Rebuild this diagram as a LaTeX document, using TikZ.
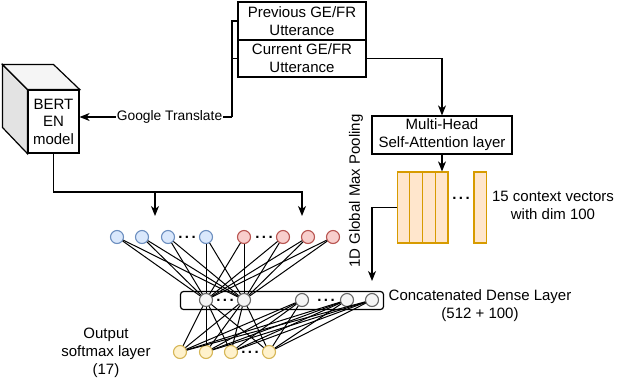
\documentclass[tikz,border=0pt]{standalone}
\usepackage{fontspec}
\setmainfont{Liberation Sans}
\usetikzlibrary{arrows.meta}
\definecolor{bluefill}{HTML}{DAE8FC}\definecolor{blueline}{HTML}{6C8EBF}
\definecolor{redfill}{HTML}{F8CECC}\definecolor{redline}{HTML}{B85450}
\definecolor{greyfill}{HTML}{F5F5F5}\definecolor{greyline}{HTML}{666666}
\definecolor{yelfill}{HTML}{FFF2CC}\definecolor{yelline}{HTML}{D6B656}
\definecolor{orafill}{HTML}{FFE6CC}\definecolor{oraline}{HTML}{D79B00}
\begin{document}
\begin{tikzpicture}[x=1pt,y=-1pt,
  every node/.style={font=\fontsize{15}{18}\selectfont, inner sep=0pt},
  lw/.style={line width=1.2pt},
  arr/.style={lw, -{Stealth[length=10pt,width=8pt,inset=3pt]}},
  boxnode/.style={draw, lw, fill=white, align=center},
  neuron/.style={circle, line width=1.1pt, minimum size=13pt, inner sep=0pt},
  inb/.style={neuron, draw=blueline, fill=bluefill},
  inr/.style={neuron, draw=redline, fill=redfill},
  hid/.style={neuron, draw=greyline, fill=greyfill},
  outn/.style={neuron, draw=yelline, fill=yelfill},
  vec/.style={draw=oraline, fill=orafill, line width=1.2pt, minimum width=12.7pt, minimum height=71pt},
  wire/.style={line width=1pt},
  dotsnode/.style={anchor=base, font=\fontsize{15}{18}\selectfont\bfseries}
]
\useasboundingbox (0,0) rectangle (623,380);

% utterance boxes
\node[boxnode, minimum width=128pt, minimum height=38pt] (prev) at (302,21) {Previous GE/FR\\Utterance};
\node[boxnode, minimum width=128pt, minimum height=37pt] (cur) at (302,58.5) {Current GE/FR\\Utterance};

% BERT cube
\node[boxnode, minimum width=51pt, minimum height=63pt, text depth=0pt] (bert) at (53.5,121.5) {BERT\\[-0.5pt]EN\\[-0.5pt]model};
\filldraw[lw, fill=gray!22] (bert.north west) -- ++(-25,-25) -- ++(0,63) -- (bert.south west) -- cycle;
\filldraw[lw, fill=gray!8] (bert.north west) -- ++(-25,-25) -- ++(51,0) -- (bert.north east) -- cycle;

% Google Translate
\coordinate (gt) at (232,117);
\draw[lw] (prev.west) -| (gt);
\draw[lw] (cur.west) -- (cur.west -| gt);
\draw[arr] (gt) -- node[pos=0.41, fill=white, inner sep=1pt, font=\fontsize{13.8}{16}\selectfont] (gtl) {Google Translate} (gt -| bert.east);

% Multi-head attention
\node[boxnode, minimum width=140pt, minimum height=38pt] (mha) at (442,135) {Multi-Head\\Self-Attention layer};
\draw[arr] (cur.east) -| (mha.north);

% context vectors
\node[vec] (v1) at (403.5,207.5) {};
\node[vec] (v2) at (416.2,207.5) {};
\node[vec] (v3) at (428.9,207.5) {};
\node[vec] (v4) at (441.6,207.5) {};
\node[vec] (v5) at (480.3,207.5) {};
\node[dotsnode] (vd) at (461,199.5) {.\hspace{2.5pt}.\hspace{2.5pt}.};
\draw[arr] (mha.south) -- (mha.south |- v4.north);
\node[align=center] (ctx) at (553,205) {15 context vectors\\with dim 100};

% max pooling
\coordinate (mpend) at (372,281);
\draw[arr] (v1.west) -| (mpend);
\node[rotate=90] (mpl) at (356,191) {1D Global Max Pooling};

% BERT to inputs
\coordinate (bus) at (302,192);
\coordinate (a1) at (155,216);
\coordinate (a2) at (302,216);
\draw[arr] (bert.south) |- (bus) -- (a2);
\draw[arr] (a1 |- bus) -- (a1);

% hidden layer box
\node[draw, lw, fill=white, rounded corners=3pt, minimum width=203pt, minimum height=18pt] (hbox) at (282,300.5) {};
\node[align=center] (hlab) at (480,306) {Concatenated Dense Layer\\(512 + 100)};

% neurons
\node[inb] (i1) at (117,237) {};
\node[inb] (i2) at (142,237) {};
\node[inb] (i3) at (168,237) {};
\node[inb] (i4) at (206,237) {};
\node[inr] (i5) at (244,237) {};
\node[inr] (i6) at (283,237) {};
\node[inr] (i7) at (308,237) {};
\node[inr] (i8) at (333,237) {};
\node[dotsnode] (d1) at (187,238.5) {.\hspace{2.5pt}.\hspace{2.5pt}.};
\node[dotsnode] (d2) at (264,238.5) {.\hspace{2.5pt}.\hspace{2.5pt}.};

\node[hid] (h1) at (206,300) {};
\node[hid] (h2) at (244,300) {};
\node[hid] (h3) at (302,300) {};
\node[hid] (h4) at (347,300) {};
\node[hid] (h5) at (372,300) {};
\node[dotsnode] (d3) at (225,301.5) {.\hspace{2.5pt}.\hspace{2.5pt}.};
\node[dotsnode] (d4) at (326,301.5) {.\hspace{2.5pt}.\hspace{2.5pt}.};

\node[outn] (o1) at (180,352) {};
\node[outn] (o2) at (206,352) {};
\node[outn] (o3) at (231,352) {};
\node[outn] (o4) at (269,352) {};
\node[dotsnode] (d5) at (250,353.5) {.\hspace{2.5pt}.\hspace{2.5pt}.};

\node[align=center] (olab) at (106,353) {Output\\softmax layer\\(17)};

% connections
\foreach \i in {1,...,8} {\foreach \h in {1,2} {\draw[wire] (i\i) -- (h\h);}}
\foreach \h in {1,...,5} {\foreach \o in {1,...,4} {\draw[wire] (h\h) -- (o\o);}}
\end{tikzpicture}
\end{document}
